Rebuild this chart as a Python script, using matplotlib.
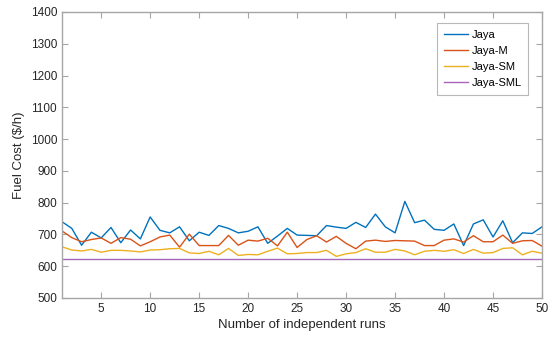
import matplotlib
matplotlib.use("Agg")
import matplotlib.pyplot as plt
import numpy as np

runs = np.arange(1, 51)

jaya = [740, 719, 666, 707, 689, 722, 674, 714, 686, 755,
        713, 705, 724, 680, 707, 697, 728, 719, 705, 710,
        724, 672, 695, 719, 698, 697, 696, 728, 723, 719,
        738, 722, 764, 724, 705, 804, 737, 745, 716, 713,
        733, 665, 733, 746, 692, 743, 674, 705, 703, 724]

jaya_m = [711, 690, 677, 684, 689, 672, 690, 685, 664, 677,
          692, 698, 660, 701, 665, 665, 665, 697, 666, 682,
          679, 688, 664, 707, 659, 684, 696, 676, 694, 672,
          655, 679, 682, 678, 681, 680, 679, 665, 665, 682,
          686, 676, 696, 677, 677, 698, 672, 680, 681, 663]

jaya_sm = [661, 651, 648, 653, 644, 650, 650, 648, 645, 651,
           652, 655, 656, 642, 640, 647, 636, 656, 634, 637,
           636, 647, 657, 639, 640, 643, 643, 650, 631, 639,
           643, 655, 644, 644, 653, 648, 636, 647, 650, 647,
           652, 640, 653, 641, 643, 656, 658, 636, 647, 641]

jaya_sml = [624] * 50

series = [
    ("Jaya", jaya, "#0072BD"),
    ("Jaya-M", jaya_m, "#D95319"),
    ("Jaya-SM", jaya_sm, "#EDB120"),
    ("Jaya-SML", jaya_sml, "#A866BA"),
]

plt.rcParams["font.family"] = ["Liberation Sans", "DejaVu Sans"]

fig = plt.figure(figsize=(5.54, 3.38), dpi=100)
ax = fig.add_axes([62 / 554, 40 / 338, 480 / 554, 286 / 338])

for label, vals, color in series:
    ax.plot(runs, vals, color=color, linewidth=1.0, label=label)

ax.set_xlim(1, 50)
ax.set_ylim(500, 1400)
ax.set_xticks([5, 10, 15, 20, 25, 30, 35, 40, 45, 50])
ax.set_yticks(np.arange(500, 1401, 100))

for s in ax.spines.values():
    s.set_color("#A6A6A6")
    s.set_linewidth(1.0)
ax.tick_params(direction="in", length=4, width=0.8, color="#A6A6A6",
               labelcolor="#262626", labelsize=8.5, top=True, right=True)

ax.set_xlabel("Number of independent runs", fontsize=9.5, color="#262626", labelpad=3)
ax.set_ylabel("Fuel Cost ($/h)", fontsize=9.5, color="#262626", labelpad=4)

leg = ax.legend(loc="upper right", bbox_to_anchor=(0.971, 0.962), borderaxespad=0,
                fontsize=8, frameon=True, fancybox=False, handlelength=2.2,
                handletextpad=0.3, borderpad=0.6, labelspacing=0.55)
leg.get_frame().set_edgecolor("#A6A6A6")
leg.get_frame().set_linewidth(0.8)

fig.savefig("out.png", dpi=100)
